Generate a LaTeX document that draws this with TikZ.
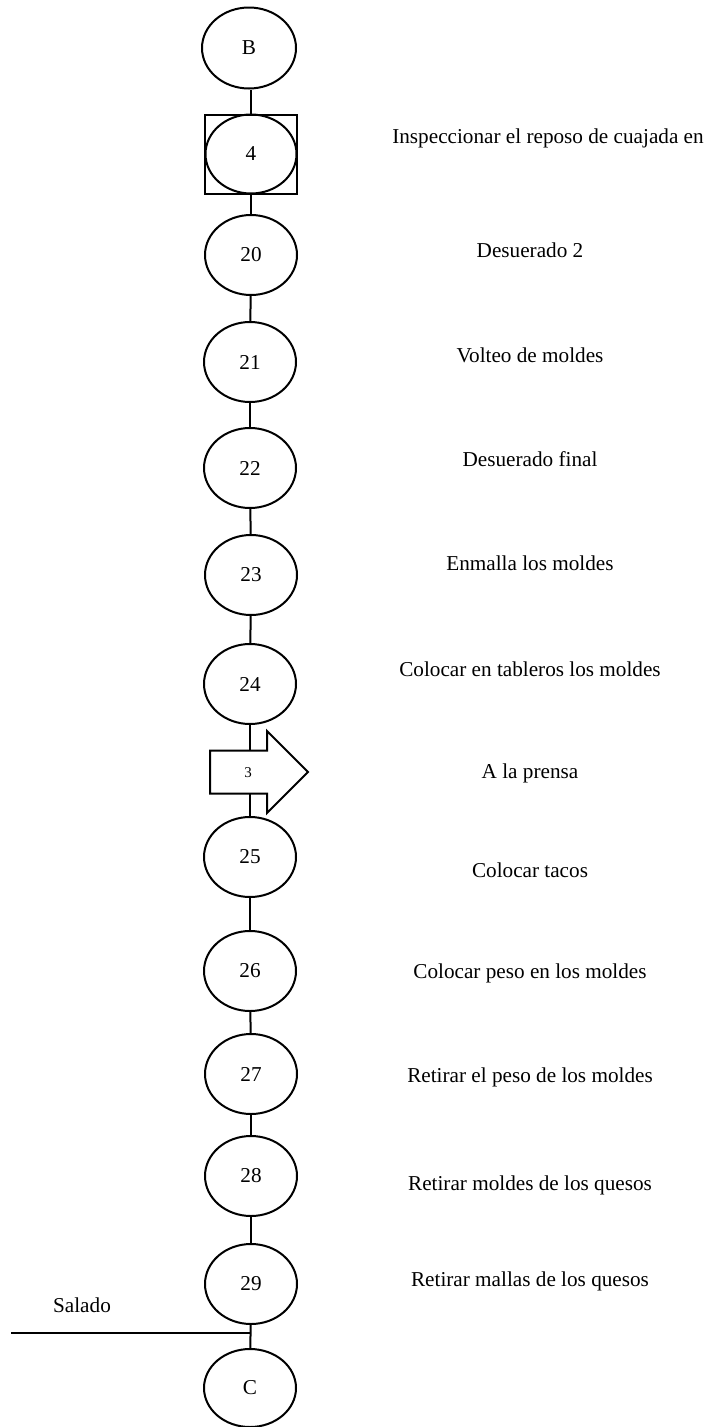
\documentclass[tikz,border=0pt]{standalone}
\usepackage{fontspec}
\setmainfont{Liberation Serif}
\usetikzlibrary{positioning,shapes.geometric,shapes.arrows}

\begin{document}
\begin{tikzpicture}[x=1pt,y=-1pt,line width=2pt,
  paso/.style={ellipse,draw,minimum width=92pt,minimum height=80pt,inner sep=0pt},
  desc/.style={font=\fontsize{21.2}{25}\selectfont}]
\tikzstyle{every node}=[font=\fontsize{21.2}{25}\selectfont]
\useasboundingbox (0,0) rectangle (704,1427);
% operaciones
\node[paso,minimum width=94pt,minimum height=81pt] (b) at (249,48) {B};
\node[paso,minimum width=91pt,minimum height=79pt] (n4) at (251,154) {4};
\node[draw,minimum width=92pt,minimum height=79pt,inner sep=0pt] (s4) at (251,154) {};
\node[paso] (n20) at (251,255) {20};
\node[paso] (n21) at (250,362) {21};
\node[paso] (n22) at (250,468) {22};
\node[paso] (n23) at (251,575) {23};
\node[paso] (n24) at (250,684) {24};
\node[paso] (n25) at (250,857) {25};
\node[paso] (n26) at (250,971) {26};
\node[paso] (n27) at (251,1074) {27};
\node[paso] (n28) at (251,1176) {28};
\node[paso] (n29) at (251,1284) {29};
\node[paso,minimum width=92pt,minimum height=78pt] (c) at (250,1388) {C};
% lineas
\draw (s4.north) -- (s4.north |- b.south);
\draw (s4.south) -- (n20.north);
\draw (n20) -- (n21);
\draw (n21) -- (n22);
\draw (n22) -- (n23);
\draw (n23) -- (n24);
\draw (n24) -- (n25);
\draw (n25) -- (n26);
\draw (n26) -- (n27);
\draw (n27) -- (n28);
\draw (n28) -- (n29);
\draw (n29) -- (c);
\coordinate (sal) at (11,1333);
\draw (sal) -- (sal -| c);
\node (salado) at (82,1305) {Salado};
% transporte
\node[single arrow,draw,fill=white,minimum height=98pt,
  inner xsep=0pt,inner ysep=20.5pt,single arrow head extend=19.5pt,
  single arrow head indent=0pt,anchor=tail] (t3) at (209,772) {};
\node[font=\fontsize{15}{18}\selectfont] (t3lbl) at (248,773) {3};
% descripciones
\node[desc,anchor=west] (d4) at (388,138) {Inspeccionar el reposo de cuajada en};
\node[desc] (d20) at (530,250) {Desuerado 2};
\node[desc] (d21) at (530,355) {Volteo de moldes};
\node[desc] (d22) at (530,459) {Desuerado final};
\node[desc] (d23) at (530,563) {Enmalla los moldes};
\node[desc] (d24) at (530,669) {Colocar en tableros los moldes};
\node[desc] (d3) at (530,773) {A la prensa};
\node[desc] (d25) at (530,870) {Colocar tacos};
\node[desc] (d26) at (530,973) {Colocar peso en los moldes};
\node[desc] (d27) at (530,1077) {Retirar el peso de los moldes};
\node[desc] (d28) at (530,1185) {Retirar moldes de los quesos};
\node[desc] (d29) at (530,1281) {Retirar mallas de los quesos};
\end{tikzpicture}
\end{document}
